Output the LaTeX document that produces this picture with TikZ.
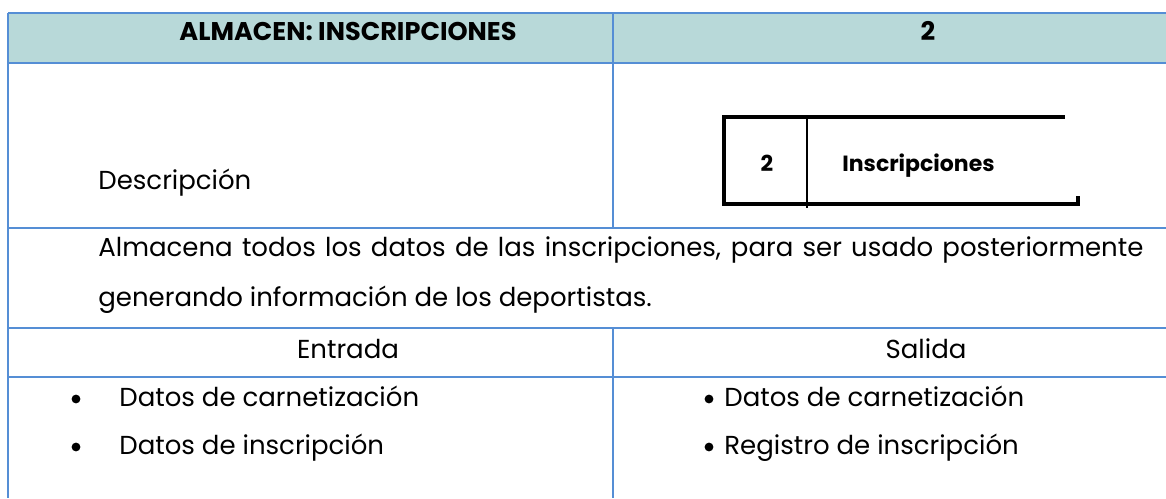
\documentclass[tikz,border=0pt]{standalone}
\usepackage{fontspec}
\setmainfont{Poppins}
\definecolor{headfill}{RGB}{184,217,217}
\definecolor{gridblue}{RGB}{85,142,213}
\tikzset{
  gridline/.style={draw=gridblue, line width=1pt},
  storeline/.style={line width=2pt, line cap=rect},
  bodytxt/.style={inner sep=0pt, font=\fontsize{13}{16}\selectfont},
  headtxt/.style={inner sep=0pt, font=\fontsize{12.8}{15}\selectfont\bfseries},
  boxtxt/.style={inner sep=0pt, font=\fontsize{11}{13}\selectfont\bfseries},
  dot/.style={circle, fill, inner sep=0pt, minimum size=4.4pt},
}
\begin{document}
\begin{tikzpicture}[x=0.5pt,y=-0.5pt]
\useasboundingbox (0,0) rectangle (1166,498);

% header row
\fill [headfill] (8,13) rectangle (1166,63);
\draw [gridline] (8,13) -- (1166,13);
\draw [gridline] (8,63) -- (1166,63);
\draw [gridline] (8,228) -- (1166,228);
\draw [gridline] (8,328) -- (1166,328);
\draw [gridline] (8,377) -- (1166,377);
\draw [gridline] (8,13) -- (8,498);
\draw [gridline] (613,13) -- (613,228);
\draw [gridline] (613,328) -- (613,498);

\node [headtxt, anchor=base] (hdrname) at (348,40) {ALMACEN: INSCRIPCIONES};
\node [headtxt, anchor=base] (hdrnum) at (928,40) {2};

% data store symbol
\draw [storeline] (1063,117) -- (724,117) -- (724,204) -- (1078,204) -- (1078,198);
\draw [line width=0.8pt] (807,117) -- (807,208);
\node [boxtxt, anchor=base] (storenum) at (767,171) {2};
\node [boxtxt, anchor=base west] (storename) at (842,171) {Inscripciones};

\node [bodytxt, anchor=base west] (desc) at (98,189) {Descripción};

% description text
\node [bodytxt, anchor=base west] (para1) at (98,256)
  {\makebox[522.5pt][s]{Almacena todos los datos de las inscripciones, para ser usado posteriormente}};
\node [bodytxt, anchor=base west] (para2) at (98,306) {generando información de los deportistas.};

\node [bodytxt, anchor=base] (inhead) at (348,358) {Entrada};
\node [bodytxt, anchor=base] (outhead) at (926,358) {Salida};

% inputs
\node [dot] (inbul1) at (76,399) {};
\node [bodytxt, anchor=base west] (in1) at (119,406) {Datos de carnetización};
\node [dot] (inbul2) at (76,447) {};
\node [bodytxt, anchor=base west] (in2) at (119,454) {Datos de inscripción};

% outputs
\node [dot] (outbul1) at (709,399) {};
\node [bodytxt, anchor=base west] (out1) at (724,406) {Datos de carnetización};
\node [dot] (outbul2) at (709,447) {};
\node [bodytxt, anchor=base west] (out2) at (724,454) {Registro de inscripción};
\end{tikzpicture}
\end{document}
